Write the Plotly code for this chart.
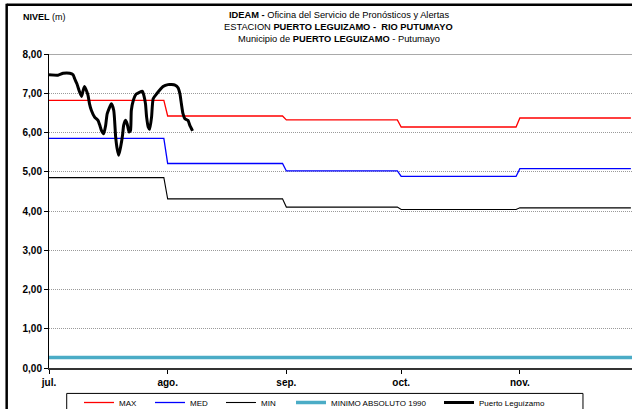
import plotly.graph_objects as go

# ---------------- data ----------------
month_start = ["2010-07-01", "2010-08-01", "2010-09-01", "2010-10-01", "2010-11-01"]
month_end = ["2010-07-31", "2010-08-31", "2010-09-30", "2010-10-31", "2010-11-30"]
tick_labels = ["jul.", "ago.", "sep.", "oct.", "nov."]

max_vals = [6.82, 6.42, 6.32, 6.14, 6.37]
med_vals = [5.85, 5.21, 5.02, 4.88, 5.08]
min_vals = [4.85, 4.31, 4.10, 4.04, 4.08]
minimo_abs_1990 = 0.27

obs_time = [
    "2010-07-01 00:00", "2010-07-03 08:00", "2010-07-04 17:00", "2010-07-06 10:00",
    "2010-07-07 07:00", "2010-07-07 17:00", "2010-07-08 07:00", "2010-07-09 00:00",
    "2010-07-09 12:00", "2010-07-09 22:00", "2010-07-10 07:00", "2010-07-10 22:00",
    "2010-07-11 05:00", "2010-07-11 14:00", "2010-07-12 02:00", "2010-07-12 22:00",
    "2010-07-13 19:00", "2010-07-14 07:00", "2010-07-14 17:00", "2010-07-15 07:00",
    "2010-07-15 19:00", "2010-07-16 05:00", "2010-07-17 07:00", "2010-07-17 22:00",
    "2010-07-18 10:00", "2010-07-18 19:00", "2010-07-19 05:00", "2010-07-19 17:00",
    "2010-07-20 05:00", "2010-07-20 12:00", "2010-07-21 00:00", "2010-07-21 10:00",
    "2010-07-21 22:00", "2010-07-22 07:00", "2010-07-22 12:00", "2010-07-23 00:00",
    "2010-07-23 19:00", "2010-07-25 10:00", "2010-07-25 19:00", "2010-07-26 05:00",
    "2010-07-26 12:00", "2010-07-26 22:00", "2010-07-27 07:00", "2010-07-27 19:00",
    "2010-07-28 05:00", "2010-07-29 02:00", "2010-07-30 19:00", "2010-08-01 02:00",
    "2010-08-02 22:00", "2010-08-03 17:00", "2010-08-04 05:00", "2010-08-04 14:00",
    "2010-08-05 00:00", "2010-08-05 12:00", "2010-08-06 07:00", "2010-08-06 19:00",
    "2010-08-07 12:00",
]
obs_level = [
    7.47, 7.46, 7.51, 7.51, 7.47, 7.37, 7.24, 7.03,
    6.92, 7.07, 7.17, 7.03, 6.94, 6.73, 6.56, 6.39,
    6.31, 6.18, 6.05, 5.97, 6.18, 6.48, 6.73, 6.56,
    5.88, 5.59, 5.42, 5.63, 5.93, 6.18, 6.31, 6.22,
    6.01, 6.05, 6.56, 6.81, 6.98, 7.05, 6.94, 6.73,
    6.39, 6.14, 6.08, 6.39, 6.86, 6.98, 7.17, 7.22,
    7.21, 7.14, 6.98, 6.73, 6.48, 6.35, 6.31, 6.18,
    6.04,
]

# ---------------- helpers ----------------
def monthly_steps(vals):
    xs, ys = [], []
    for s, e, v in zip(month_start, month_end, vals):
        xs += [s, e]
        ys += [v, v]
    return xs, ys

FONT = "Liberation Sans, Arial, sans-serif"

fig = go.Figure()

x, y = monthly_steps(max_vals)
fig.add_trace(go.Scatter(x=x, y=y, mode="lines", name="MAX",
                         line=dict(color="#FF0000", width=1.3), legend="legend"))
x, y = monthly_steps(med_vals)
fig.add_trace(go.Scatter(x=x, y=y, mode="lines", name="MED",
                         line=dict(color="#0000FF", width=1.3), legend="legend2"))
x, y = monthly_steps(min_vals)
fig.add_trace(go.Scatter(x=x, y=y, mode="lines", name="MIN",
                         line=dict(color="#000000", width=1.1), legend="legend3"))
fig.add_trace(go.Scatter(x=[month_start[0], "2010-12-01"], y=[minimo_abs_1990] * 2,
                         mode="lines", name="MINIMO ABSOLUTO 1990",
                         line=dict(color="#4BACC6", width=3.5), legend="legend4"))
fig.add_trace(go.Scatter(x=obs_time, y=obs_level, mode="lines", name="Puerto Leguízamo",
                         line=dict(color="#000000", width=3, shape="spline", smoothing=0.5),
                         legend="legend5"))

W, H = 632, 409
ML, MR, MT, MB = 49.3, 0, 53.5, 40.5
PW = W - ML - MR
PH = H - MT - MB

def px_x(p):
    return (p - ML) / PW

def px_y(p):
    return (H - MB - p) / PH

leg_common = dict(orientation="h", yanchor="middle", xanchor="left",
                  xref="container", yref="container",
                  font=dict(family=FONT, size=8, color="#000"),
                  bgcolor="rgba(0,0,0,0)", borderwidth=0, itemwidth=30)
text_starts = [121, 192, 263, 333, 481]
legends = {}
for i, ts in enumerate(text_starts):
    key = "legend" if i == 0 else f"legend{i+1}"
    legends[key] = dict(leg_common, x=(ts - 42) / W, y=(H - 402.5) / H)

fig.update_layout(
    width=W, height=H,
    margin=dict(l=ML, r=MR, t=MT, b=MB, autoexpand=False),
    paper_bgcolor="white", plot_bgcolor="white",
    separators=",.",
    showlegend=True,
    **legends,
    xaxis=dict(
        type="date", automargin=False,
        range=["2010-07-01", "2010-11-30 07:00"],
        tickvals=month_start, ticktext=tick_labels,
        ticks="outside", ticklen=4, tickcolor="#000", tickwidth=1,
        showgrid=False, zeroline=False,
        showline=True, linecolor="#333", linewidth=2,
        tickfont=dict(family=FONT, size=10, color="#000", weight="bold"),
    ),
    yaxis=dict(
        automargin=False,
        range=[0, 8], dtick=1, tickformat=".2f",
        ticks="outside", ticklen=4, tickcolor="#000", tickwidth=1,
        showgrid=True, gridcolor="#9a9a9a", griddash="1px,1px", gridwidth=1,
        zeroline=False,
        showline=True, linecolor="#000", linewidth=1,
        tickfont=dict(family=FONT, size=10, color="#000", weight="bold"),
    ),
    shapes=[
        dict(type="line", xref="paper", yref="y", x0=0, x1=1, y0=8, y1=8,
             line=dict(color="#8c8c8c", width=1.5), layer="below"),
        dict(type="rect", xref="paper", yref="paper",
             x0=px_x(67), x1=px_x(583), y0=px_y(394), y1=px_y(420),
             line=dict(color="#000", width=1)),
        dict(type="line", xref="paper", yref="paper",
             x0=px_x(7), x1=px_x(7), y0=px_y(3), y1=px_y(420),
             line=dict(color="#000", width=2.5)),
        dict(type="line", xref="paper", yref="paper",
             x0=px_x(7), x1=px_x(640), y0=px_y(4), y1=px_y(4),
             line=dict(color="#000", width=2.5)),
    ],
    annotations=[
        dict(text="<b>IDEAM - </b>Oficina del Servicio de Pronósticos y Alertas",
             xref="paper", yref="paper", x=px_x(339), y=px_y(14.5),
             xanchor="center", yanchor="middle", showarrow=False,
             font=dict(family=FONT, size=9.3, color="#000")),
        dict(text="ESTACION <b>PUERTO LEGUIZAMO -  RIO PUTUMAYO</b>",
             xref="paper", yref="paper", x=px_x(339), y=px_y(26.5),
             xanchor="center", yanchor="middle", showarrow=False,
             font=dict(family=FONT, size=9.3, color="#000")),
        dict(text="Municipio de <b>PUERTO LEGUIZAMO</b> - Putumayo",
             xref="paper", yref="paper", x=px_x(339), y=px_y(38.5),
             xanchor="center", yanchor="middle", showarrow=False,
             font=dict(family=FONT, size=9.3, color="#000")),
        dict(text="<b>NIVEL</b> (m)",
             xref="paper", yref="paper", x=px_x(21), y=px_y(16),
             xanchor="left", yanchor="middle", showarrow=False,
             font=dict(family=FONT, size=9, color="#000")),
    ],
)

fig.write_html("out.html", config={"displayModeBar": False},
               post_script="document.body.style.margin='0';document.body.style.overflow='hidden';")
